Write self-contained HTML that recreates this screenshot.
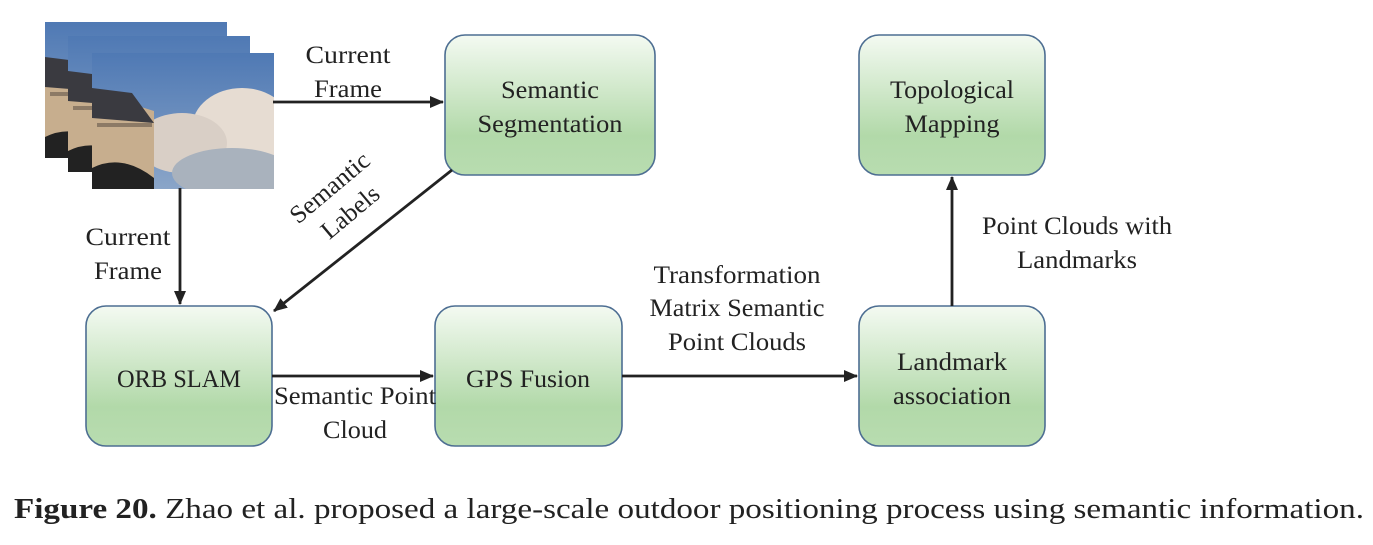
<!DOCTYPE html>
<html><head><meta charset="utf-8"><style>
body{margin:0;background:#fff;}
svg text{font-family:"Liberation Serif",serif;font-size:25px;fill:#222;}
</style></head><body>
<svg width="1373" height="540" xmlns="http://www.w3.org/2000/svg">
<defs>
<linearGradient id="g" x1="0" y1="0" x2="0" y2="1">
<stop offset="0" stop-color="#f4faf2"/><stop offset="0.72" stop-color="#b2d9a9"/><stop offset="1" stop-color="#b8dcb0"/></linearGradient>
<linearGradient id="sky" x1="0" y1="0" x2="0" y2="1">
<stop offset="0" stop-color="#4f79b4"/><stop offset="1" stop-color="#8aa5c8"/></linearGradient>
<clipPath id="c"><rect x="0" y="0" width="182" height="136"/></clipPath>
<marker id="a" markerWidth="14" markerHeight="14" refX="13" refY="7" orient="auto" markerUnits="userSpaceOnUse"><path d="M0,1 L14,7 L0,13 z" fill="#222"/></marker>
<g id="pic" clip-path="url(#c)">
<rect x="0" y="0" width="182" height="136" fill="url(#sky)"/>
<ellipse cx="150" cy="75" rx="50" ry="40" fill="#e6dcd2"/>
<ellipse cx="90" cy="90" rx="45" ry="30" fill="#d9cfc6"/>
<ellipse cx="140" cy="120" rx="60" ry="25" fill="#a9b2bd"/>
<path d="M0,40 L20,45 L62,58 L62,136 L0,136z" fill="#c7ae8e"/>
<path d="M0,35 L40,40 L62,70 L0,65z" fill="#3a3a40"/>
<rect x="5" y="70" width="55" height="4" fill="#8c7a66"/>
<path d="M0,115 Q30,100 62,125 L62,136 L0,136z" fill="#222"/>
</g>
</defs>
<use href="#pic" x="45" y="22"/>
<use href="#pic" x="68" y="36"/>
<use href="#pic" x="92" y="53"/>
<g fill="url(#g)" stroke="#4d6e92" stroke-width="1.6">
<rect x="445" y="35" width="210" height="140" rx="20"/>
<rect x="859" y="35" width="186" height="140" rx="20"/>
<rect x="86" y="306" width="186" height="140" rx="20"/>
<rect x="435" y="306" width="187" height="140" rx="20"/>
<rect x="859" y="306" width="186" height="140" rx="20"/>
</g>
<g stroke="#222" stroke-width="2.8" marker-end="url(#a)">
<line x1="273" y1="102" x2="443" y2="102"/>
<line x1="180" y1="188" x2="180" y2="304"/>
<line x1="452" y1="170" x2="274" y2="311"/>
<line x1="272" y1="376" x2="433" y2="376"/>
<line x1="622" y1="376" x2="857" y2="376"/>
<line x1="952" y1="306" x2="952" y2="177"/>
</g>
<g text-anchor="middle">
<text x="550" y="98" textLength="98" lengthAdjust="spacingAndGlyphs">Semantic</text><text x="550" y="132" textLength="145" lengthAdjust="spacingAndGlyphs">Segmentation</text>
<text x="952" y="98" textLength="124" lengthAdjust="spacingAndGlyphs">Topological</text><text x="952" y="132" textLength="95" lengthAdjust="spacingAndGlyphs">Mapping</text>
<text x="179" y="387" textLength="124" lengthAdjust="spacingAndGlyphs">ORB SLAM</text>
<text x="528" y="387" textLength="124" lengthAdjust="spacingAndGlyphs">GPS Fusion</text>
<text x="952" y="370" textLength="110" lengthAdjust="spacingAndGlyphs">Landmark</text><text x="952" y="404" textLength="118" lengthAdjust="spacingAndGlyphs">association</text>
<text x="348" y="63" textLength="85" lengthAdjust="spacingAndGlyphs">Current</text><text x="348" y="97" textLength="68" lengthAdjust="spacingAndGlyphs">Frame</text>
<text x="128" y="245" textLength="85" lengthAdjust="spacingAndGlyphs">Current</text><text x="128" y="279" textLength="68" lengthAdjust="spacingAndGlyphs">Frame</text>
<text x="355" y="404" textLength="162" lengthAdjust="spacingAndGlyphs">Semantic Point</text><text x="355" y="438" textLength="64" lengthAdjust="spacingAndGlyphs">Cloud</text>
<text x="737" y="283" textLength="167" lengthAdjust="spacingAndGlyphs">Transformation</text><text x="737" y="316" textLength="175" lengthAdjust="spacingAndGlyphs">Matrix Semantic</text><text x="737" y="350" textLength="138" lengthAdjust="spacingAndGlyphs">Point Clouds</text>
<text x="1077" y="234" textLength="190" lengthAdjust="spacingAndGlyphs">Point Clouds with</text><text x="1077" y="268" textLength="120" lengthAdjust="spacingAndGlyphs">Landmarks</text>
<g transform="translate(340,200) rotate(-40)"><text x="0" y="-8" textLength="96" lengthAdjust="spacingAndGlyphs">Semantic</text><text x="0" y="24" textLength="68" lengthAdjust="spacingAndGlyphs">Labels</text></g>
</g>
<text x="14" y="518" style="font-size:28px" textLength="1350" lengthAdjust="spacingAndGlyphs"><tspan font-weight="bold">Figure 20.</tspan> Zhao et al.  proposed a large-scale outdoor positioning process using semantic information.</text>
</svg>
</body></html>
